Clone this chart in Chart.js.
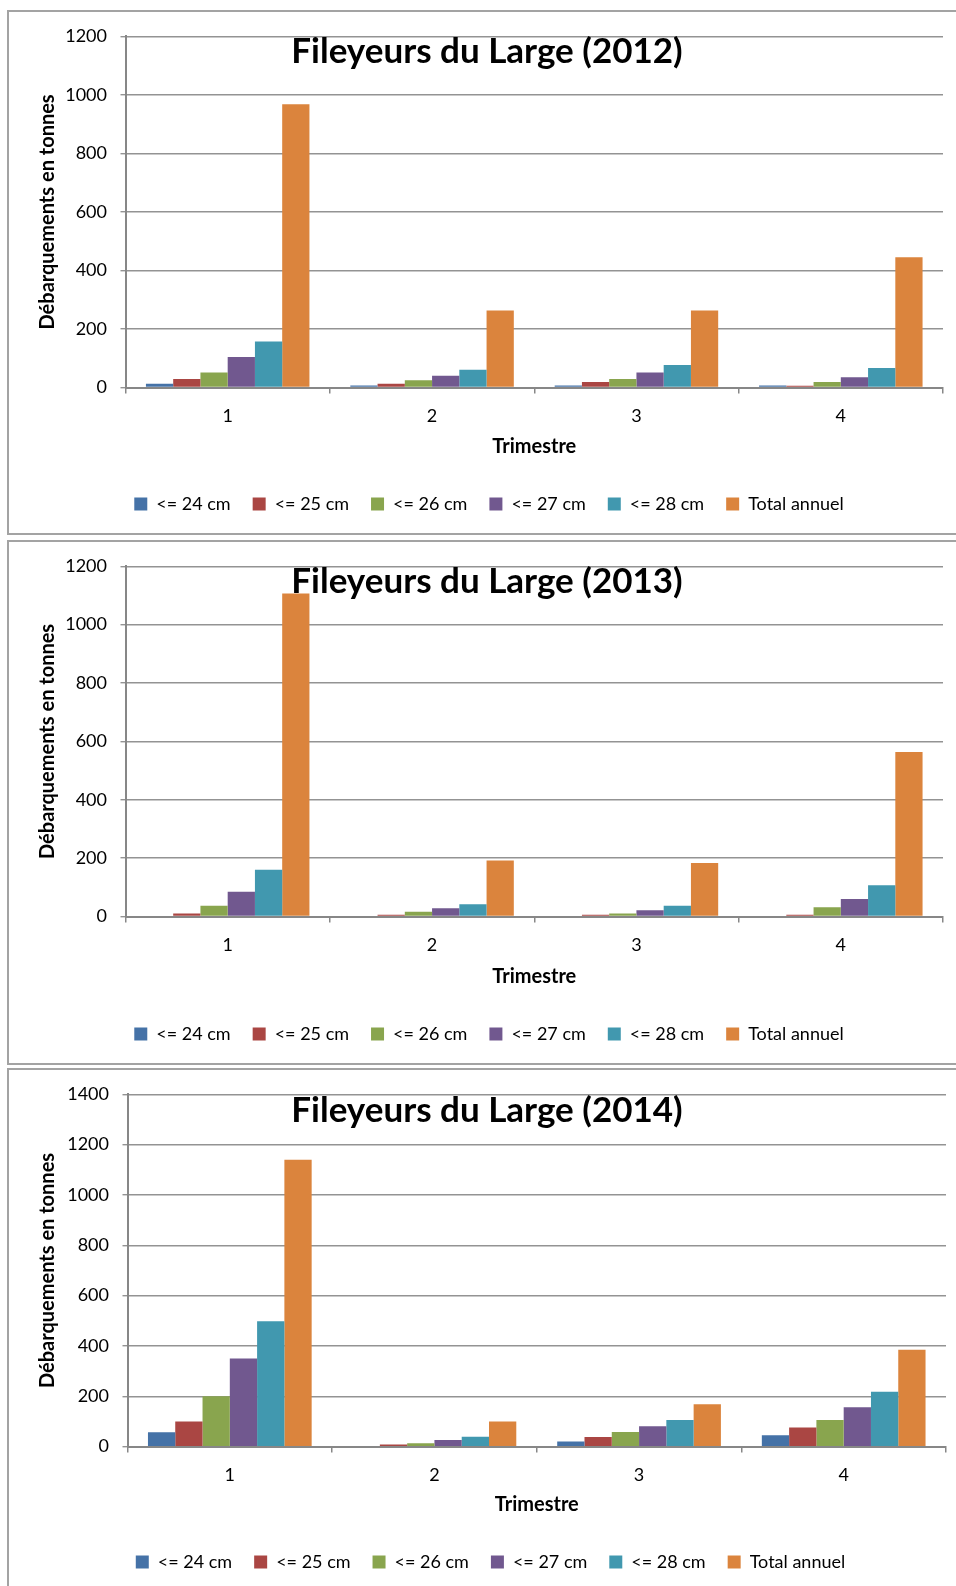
<!DOCTYPE html>
<html lang="fr">
<head>
<meta charset="utf-8">
<title>Fileyeurs du Large</title>
<script src="https://cdn.jsdelivr.net/npm/chart.js@4.4.0/dist/chart.umd.min.js"></script>
<style>
  html, body { margin: 0; padding: 0; background: #fff; }
  body { width: 956px; height: 1586px; overflow: hidden; position: relative; }
  .cadre { position: absolute; left: 7px; width: 949px; height: 521px; border: 2px solid #a3a3a3; background: #fff; }
  .cadre canvas { display: block; }
</style>
</head>
<body>
<div class="cadre" style="top:10px"><canvas id="graphe2012" width="949" height="521"></canvas></div>
<div class="cadre" style="top:540px"><canvas id="graphe2013" width="949" height="521"></canvas></div>
<div class="cadre" style="top:1068px"><canvas id="graphe2014" width="949" height="521"></canvas></div>

<script>
// --- DONNÉES ---
const trimestres = ['1', '2', '3', '4'];
const classes = ['<= 24 cm', '<= 25 cm', '<= 26 cm', '<= 27 cm', '<= 28 cm', 'Total annuel'];

const t24_2012 = [13, 7, 7, 7];
const t25_2012 = [29, 13, 19, 6];
const t26_2012 = [51, 25, 29, 19];
const t27_2012 = [104, 40, 51, 35];
const t28_2012 = [157, 61, 77, 67];
const total_2012 = [968, 263, 263, 445];

const t24_2013 = [0, 0, 0, 0];
const t25_2013 = [10, 6, 6, 6];
const t26_2013 = [37, 16, 10, 32];
const t27_2013 = [85, 28, 21, 60];
const t28_2013 = [160, 42, 37, 107];
const total_2013 = [1107, 192, 183, 564];

const t24_2014 = [57, 2, 20, 45];
const t25_2014 = [100, 8, 38, 76];
const t26_2014 = [200, 13, 58, 106];
const t27_2014 = [350, 26, 81, 156];
const t28_2014 = [498, 39, 106, 218];
const total_2014 = [1140, 100, 168, 385];

const maxY = { 2012: 1200, 2013: 1200, 2014: 1400 };
const pasY = 200;

// --- STYLE ---
const couleurs = ['#4572A7', '#AA4643', '#89A54E', '#71588F', '#4198AF', '#DB843D'];
const POLICE = 'Lato';
const GRIS_GRILLE = '#939393';
const GRIS_AXE = '#878787';

// titre posé sur la zone de tracé (comme dans Excel)
const titreSuperpose = {
  id: 'titreSuperpose',
  afterDatasetsDraw(chart, args, opts) {
    const ctx = chart.ctx;
    ctx.save();
    ctx.font = `bold ${opts.taille}px ${POLICE}`;
    ctx.fillStyle = '#000';
    ctx.textAlign = 'center';
    ctx.textBaseline = 'middle';
    ctx.fillText(opts.texte, opts.x, opts.y);
    ctx.restore();
  }
};

function creerGraphe(annee, series, pos) {
  const ctx = document.getElementById('graphe' + annee);
  const legPad = 22, legFont = 18, margeBas = 10, margeGauche = 26;
  const hauteurLegende = legFont + legPad + 10;
  const hauteurX = (ctx.height - margeBas - hauteurLegende) - pos.bas;

  return new Chart(ctx, {
    type: 'bar',
    data: {
      labels: trimestres,
      datasets: series.map((s, i) => ({
        label: classes[i],
        data: s,
        backgroundColor: couleurs[i],
        borderWidth: 0,
        categoryPercentage: 0.8,
        barPercentage: 1.0
      }))
    },
    options: {
      responsive: false,
      animation: false,
      layout: { padding: { top: pos.haut, left: margeGauche, right: ctx.width - pos.droite, bottom: margeBas } },
      plugins: {
        tooltip: { enabled: false },
        title: { display: false },
        legend: {
          position: 'bottom',
          labels: { boxWidth: 13, boxHeight: 13, padding: legPad, color: '#000', font: { family: POLICE, size: legFont } }
        },
        titreSuperpose: { texte: `Fileyeurs du Large (${annee})`, taille: 35, x: 478, y: pos.titreY }
      },
      scales: {
        x: {
          grid: { offset: true, drawOnChartArea: false, tickLength: 6, color: GRIS_AXE, lineWidth: 1.5 },
          border: { color: GRIS_AXE, width: 2 },
          ticks: { color: '#000', padding: 12, font: { family: POLICE, size: 18 } },
          title: { display: true, text: 'Trimestre', color: '#000', padding: { top: 0, bottom: 14 }, font: { family: POLICE, size: 20, weight: 'bold' } },
          afterFit: s => { s.height = hauteurX; }
        },
        y: {
          min: 0,
          max: maxY[annee],
          grid: { color: GRIS_GRILLE, lineWidth: 1.4, tickLength: 5 },
          border: { color: GRIS_AXE, width: 2 },
          ticks: { stepSize: pasY, color: '#000', padding: 13.5, font: { family: POLICE, size: 18 }, callback: v => String(v) },
          title: { display: true, text: 'Débarquements en tonnes', color: '#000', padding: { top: 1, bottom: 0 }, font: { family: POLICE, size: 20, weight: 'bold' } },
          afterFit: s => { s.width = pos.gauche - margeGauche; }
        }
      }
    },
    plugins: [titreSuperpose]
  });
}

creerGraphe(2012, [t24_2012, t25_2012, t26_2012, t27_2012, t28_2012, total_2012],
  { haut: 21.4, bas: 375.5, gauche: 116.5, droite: 934, titreY: 40 });
creerGraphe(2013, [t24_2013, t25_2013, t26_2013, t27_2013, t28_2013, total_2013],
  { haut: 20.5, bas: 374.5, gauche: 116.5, droite: 934, titreY: 40 });
creerGraphe(2014, [t24_2014, t25_2014, t26_2014, t27_2014, t28_2014, total_2014],
  { haut: 22.5, bas: 376.6, gauche: 118.5, droite: 937, titreY: 41 });
</script>
</body>
</html>
